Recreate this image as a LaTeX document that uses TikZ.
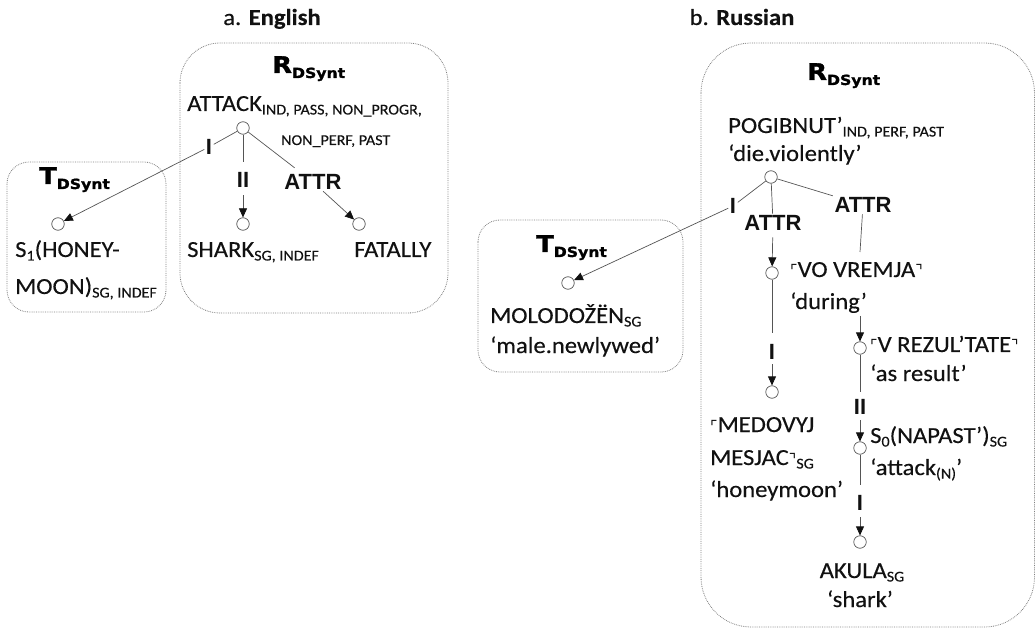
\documentclass[tikz,border=0pt]{standalone}
\usepackage{fontspec}
\setmainfont{Carlito}[FakeStretch=1.07,FakeBold=0.3]
\newfontfamily\relf{Liberation Sans}
\newfontfamily\rfont{DejaVu Sans}[FakeStretch=1.12,FakeBold=1.4]
\newfontfamily\symf{DejaVu Sans}
\usetikzlibrary{arrows.meta}
\definecolor{ink}{HTML}{111111}
\definecolor{edgec}{HTML}{555555}
\definecolor{boxc}{HTML}{808080}
\newcommand\mainsz{\fontsize{23}{28}\selectfont}
\newcommand\subsz{\fontsize{15}{17}\selectfont}
\newcommand\lsub[1]{\raisebox{-3.5pt}{\subsz #1}}
\newcommand\cornL{{\symf\fontsize{16}{16}\selectfont ⌜}}
\newcommand\cornR{{\symf\fontsize{16}{16}\selectfont ⌝}}
\newcommand\levlab[2]{{\rfont\bfseries\fontsize{23}{23}\selectfont #1\raisebox{-5pt}{\fontsize{14}{14}\selectfont #2}}}
\begin{document}
\begin{tikzpicture}[x=1pt,y=-1pt,
  txt/.style={inner sep=0pt, anchor=base west, text=ink, font=\mainsz},
  ctxt/.style={inner sep=0pt, anchor=base, text=ink, font=\mainsz},
  lvl/.style={inner sep=0pt, anchor=base west, text=black},
  vtx/.style={circle, draw=edgec, line width=0.7pt, minimum size=12.5pt, inner sep=0pt},
  rel/.style={inner sep=1.5pt, text=ink, font=\relf\bfseries\fontsize{22}{22}\selectfont},
  ln/.style={draw=edgec, line width=0.7pt},
  arr/.style={draw=edgec, line width=0.7pt, -{Triangle[length=9pt,width=8pt,color=ink]}},
  frame/.style={draw=boxc, densely dotted, line width=0.8pt}]
\useasboundingbox (0,0) rectangle (1036,628);

% frames
\draw[frame, rounded corners=40pt] (180,43) rectangle (448,313);
\draw[frame, rounded corners=22pt] (7,162) rectangle (166,312);
\draw[frame, rounded corners=50pt] (701,43) rectangle (1034.5,627);
\draw[frame, rounded corners=22pt] (478,220) rectangle (683,372);

% titles
\node[ctxt] (titleA) at (272,25) {a. \textbf{English}};
\node[ctxt] (titleB) at (742,25) {b. \textbf{Russian}};

% level labels
\node[lvl] (rA) at (272,73) {\levlab{R}{DSynt}};
\node[lvl] (tA) at (39,184) {\levlab{T}{DSynt}};
\node[lvl] (rB) at (807,80) {\levlab{R}{DSynt}};
\node[lvl] (tB) at (536,252) {\levlab{T}{DSynt}};

% ---------- English ----------
\node[vtx] (a0) at (243,128) {};
\node[txt] (attack) at (187,111) {ATTACK\lsub{IND, PASS, NON\_PROGR,}};
\node[txt, font=\subsz] (attackb) at (281,145) {NON\_PERF, PAST};
\node[rel] (aI) at (209,147) {I};
\node[rel] (aII) at (243,180) {II};
\node[rel] (aATTR) at (313,182) {ATTR};
\node[vtx] (a1) at (58,224) {};
\node[vtx] (a2) at (243,224) {};
\node[vtx] (a3) at (359,224) {};
\node[txt] (shark) at (187,257) {SHARK\lsub{SG, INDEF}};
\node[txt] (fatally) at (354,257) {FATALLY};
\node[txt] (hm1) at (15,257) {S\lsub{1}(HONEY-};
\node[txt] (hm2) at (15,294) {MOON)\lsub{SG, INDEF}};

\draw[ln] (a0) -- (aI);
\draw[arr] (aI) -- (a1);
\draw[ln, shorten >=9pt] (a0) -- (aII);
\draw[arr, shorten <=6pt] (aII) -- (a2);
\draw[ln, shorten >=8pt] (a0) -- (aATTR);
\draw[arr] (aATTR) -- (a3);

% ---------- Russian ----------
\node[vtx] (b0) at (771,177) {};
\node[txt] (pog) at (728,133) {POGIBNUT’\lsub{IND, PERF, PAST}};
\node[txt] (pogg) at (728,161) {‘die.violently’};
\node[rel] (bI) at (733,206) {I};
\node[rel] (bA1) at (773,223) {ATTR};
\node[rel] (bA2) at (863,205) {ATTR};
\node[vtx] (b1) at (568,283) {};
\node[vtx] (b2) at (772,273) {};
\node[vtx] (b3) at (772,392) {};
\node[vtx] (b4) at (860,348) {};
\node[vtx] (b5) at (860,448) {};
\node[vtx] (b6) at (860,542) {};
\node[rel] (bI2) at (772,352) {I};
\node[rel] (bII) at (860,407) {II};
\node[rel] (bI3) at (860,503) {I};
\coordinate (c1) at (860,252);
\coordinate (c2) at (860,316);

\node[txt] (mol) at (490,323) {MOLODOŽËN\lsub{SG}};
\node[txt] (molg) at (490,353) {‘male.newlywed’};
\node[txt] (vv) at (790,277) {\cornL VO VREMJA\cornR};
\node[txt] (vvg) at (790,309) {‘during’};
\node[txt] (vr) at (870,352) {\cornL V REZUL’TATE\cornR};
\node[txt] (vrg) at (870,381) {‘as result’};
\node[txt] (so) at (870,443) {S\lsub{0}(NAPAST’)\lsub{SG}};
\node[txt] (sog) at (870,475) {‘attack\lsub{(N)}’};
\node[ctxt] (ak) at (862,578) {AKULA\lsub{SG}};
\node[ctxt] (akg) at (860,607) {‘shark’};
\node[txt] (md1) at (710,432) {\cornL MEDOVYJ};
\node[txt] (md2) at (710,465) {MESJAC\cornR\lsub{SG}};
\node[txt] (md3) at (710,497) {‘honeymoon’};

\draw[ln] (b0) -- (bI);
\draw[arr] (bI) -- (b1);
\draw[ln] (b0) -- (bA1);
\draw[arr, shorten <=5pt] (bA1) -- (b2);
\draw[ln] (b0) -- (bA2);
\draw[ln] (bA2) -- (c1);
\draw[arr] (c2) -- (b4);
\draw[ln, shorten >=10pt] (b2) -- (bI2);
\draw[arr, shorten <=3pt] (bI2) -- (b3);
\draw[ln, shorten >=6pt] (b4) -- (bII);
\draw[arr, shorten <=4pt] (bII) -- (b5);
\draw[ln, shorten >=9pt] (b5) -- (bI3);
\draw[arr, shorten <=5pt] (bI3) -- (b6);
\end{tikzpicture}
\end{document}
